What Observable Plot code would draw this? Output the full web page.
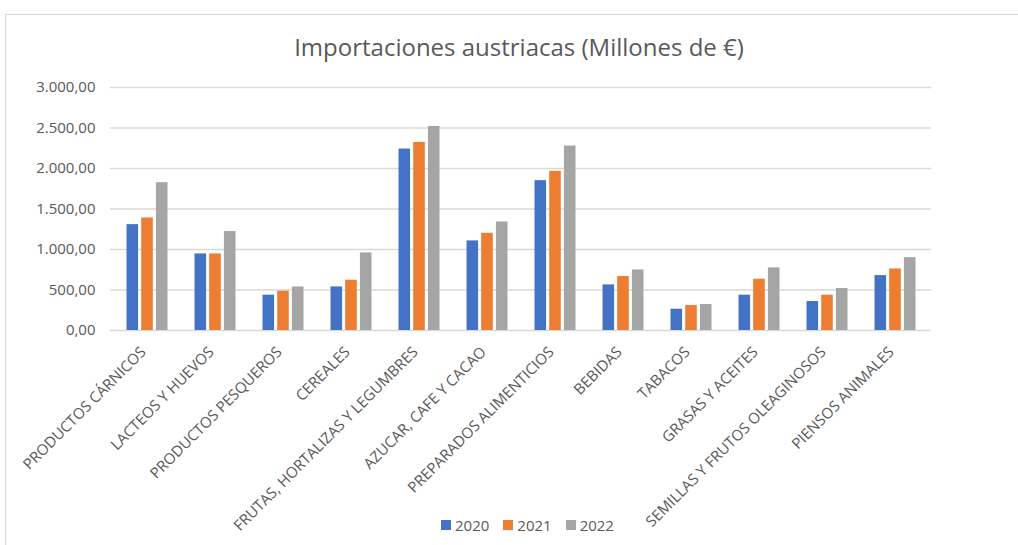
<!DOCTYPE html>
<html><head><meta charset="utf-8">
<script src="https://cdn.jsdelivr.net/npm/d3@7"></script>
<script src="https://cdn.jsdelivr.net/npm/@observablehq/plot@0.6"></script>
<style>
body{margin:0;width:1018px;height:545px;overflow:hidden;background:#fff;font-family:"Open Sans",sans-serif;position:relative}
#frame{position:absolute;left:5px;top:14px;width:1100px;height:600px;border-left:1.5px solid #d9d9d9;border-top:1.5px solid #d9d9d9;box-sizing:border-box}
#title{position:absolute;left:0;top:32px;width:1038px;text-align:center;font-size:24px;color:#595959;line-height:30px}
#chart{position:absolute;left:0;top:72px}
#legend{position:absolute;top:515px;left:441px;display:flex;font-size:15px;color:#595959;line-height:20px}
#legend .it{display:flex;align-items:center;margin-right:14px}
#legend .sw{width:10px;height:10px;margin-right:4px}
</style></head>
<body>
<div id="frame"></div>
<div id="title">Importaciones austriacas (Millones de €)</div>
<div id="chart"></div>
<div id="legend"></div>
<script>
const categories = ["PRODUCTOS CÁRNICOS","LACTEOS Y HUEVOS","PRODUCTOS PESQUEROS","CEREALES","FRUTAS, HORTALIZAS Y LEGUMBRES","AZUCAR, CAFE Y CACAO","PREPARADOS ALIMENTICIOS","BEBIDAS","TABACOS","GRASAS Y ACEITES","SEMILLAS Y FRUTOS OLEAGINOSOS","PIENSOS ANIMALES"];
const years = ["2020","2021","2022"];
const v2020 = [1307, 945, 436, 538, 2240, 1106, 1850, 563, 263, 436, 358, 678];
const v2021 = [1389, 945, 485, 621, 2322, 1200, 1965, 666, 308, 633, 436, 760];
const v2022 = [1825, 1221, 538, 958, 2519, 1340, 2277, 748, 321, 773, 518, 900];
const yTicks = [0, 500, 1000, 1500, 2000, 2500, 3000];
const colors = ["#4472C4", "#ED7D31", "#A5A5A5"];

const series = [v2020, v2021, v2022];
const es = d3.formatLocale({decimal: ",", thousands: ".", grouping: [3], currency: ["", "€"]});
const fmt = es.format(",.2f");

// band of 12 categories across the frame; three bars per band, offset around the band centre
const W = 1018, mL = 110, mR = 87;
const step = (W - mL - mR) / categories.length;
const barW = 12, barStep = 14.7;
const inset = (step - barW) / 2;

const barMarks = years.map((yr, j) => Plot.barY(
  categories.map((c, i) => ({cat: c, year: yr, value: series[j][i]})),
  {x: "cat", y: "value", fill: "year", insetLeft: inset, insetRight: inset, dx: (j - 1) * barStep}
));

const chart = Plot.plot({
  width: W, height: 473,
  marginLeft: mL, marginRight: mR, marginTop: 15, marginBottom: 215,
  style: {fontFamily: "Open Sans", fontSize: "15px", color: "#595959", background: "transparent"},
  x: {domain: categories, padding: 0, label: null},
  y: {domain: [0, 3000], label: null},
  color: {domain: years, range: colors},
  marks: [
    Plot.gridY(yTicks, {stroke: "#d9d9d9", strokeOpacity: 1, strokeWidth: 1.5}),
    ...barMarks,
    Plot.axisY(yTicks, {tickSize: 0, tickPadding: 15, tickFormat: fmt, label: null, fill: "#595959"}),
    Plot.axisX({tickRotate: -45, tickSize: 0, tickPadding: 19, dx: -4, label: null, fill: "#595959"})
  ]
});
document.getElementById("chart").appendChild(chart);

const lg = document.getElementById("legend");
years.forEach((yr, j) => {
  const it = document.createElement("div"); it.className = "it";
  const sw = document.createElement("div"); sw.className = "sw"; sw.style.background = colors[j];
  const t = document.createElement("span"); t.textContent = yr;
  it.appendChild(sw); it.appendChild(t); lg.appendChild(it);
});
</script>
</body></html>
